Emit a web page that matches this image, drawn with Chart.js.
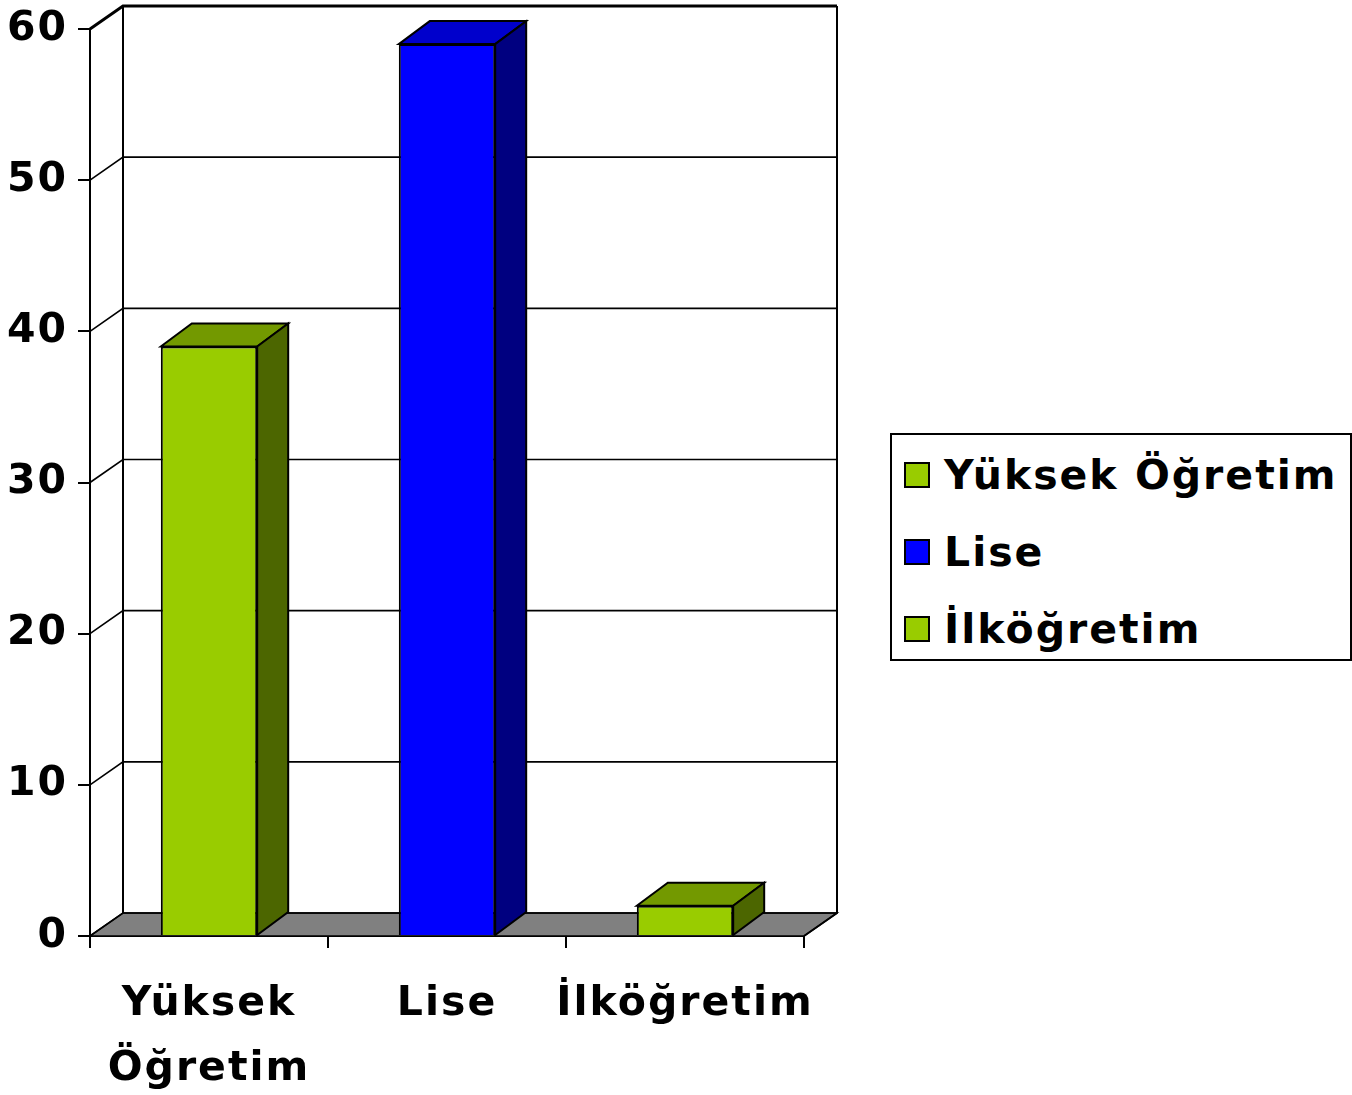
<!DOCTYPE html>
<html><head><meta charset="utf-8">
<script src="https://cdn.jsdelivr.net/npm/chart.js@4"></script>
<style>
html,body{margin:0;padding:0;background:#fff;overflow:hidden}
#wrap{position:relative;width:1352px;height:1095px}
#c{position:absolute;left:0;top:0}
#legend{position:absolute;left:890px;top:433px;width:458px;height:224px;border:2px solid #000;background:#fff;font:bold 41px "DejaVu Sans";color:#000;letter-spacing:2px}
.item{position:absolute;left:12px;height:50px;display:flex;align-items:center;white-space:nowrap}
.sw{width:26px;height:26px;border:2px solid #000;margin-right:14px;box-sizing:border-box}
</style></head>
<body><div id="wrap"><canvas id="c" width="1352" height="1095"></canvas><div id="legend"></div></div>
<script>
const categories = [['Yüksek','Öğretim'], 'Lise', 'İlköğretim'];
const legendLabels = ['Yüksek Öğretim', 'Lise', 'İlköğretim'];
const values = [39, 59, 2];
const yTicks = [0, 10, 20, 30, 40, 50, 60];
const frontColors = ['#99CC00', '#0000FF', '#99CC00'];
const topColors = ['#739900', '#0000CC', '#739900'];
const sideColors = ['#4C6600', '#000080', '#4C6600'];

const WX = 33, WY = 23;   // wall depth
const BX = 31, BY = 23;   // bar depth
const FONT = '"DejaVu Sans", sans-serif';

function poly(ctx, pts, fill, lw){
  ctx.beginPath();
  ctx.moveTo(pts[0][0], pts[0][1]);
  for (let i=1;i<pts.length;i++) ctx.lineTo(pts[i][0], pts[i][1]);
  ctx.closePath();
  if (fill){ ctx.fillStyle = fill; ctx.fill(); }
  ctx.lineWidth = lw; ctx.strokeStyle = '#000'; ctx.stroke();
}

const spacing = {
  id: 'spacing',
  beforeInit(chart){ chart.ctx.letterSpacing = '2px'; },
  beforeUpdate(chart){ chart.ctx.letterSpacing = '2px'; },
  beforeDraw(chart){ chart.ctx.letterSpacing = '2px'; }
};

const threeD = {
  id: 'threeD',
  beforeDatasetsDraw(chart){
    const {ctx, chartArea:a, scales:{y}} = chart;
    ctx.save();
    ctx.lineJoin = 'miter';
    const y0 = y.getPixelForValue(0);
    poly(ctx, [[a.left,y0],[a.right,y0],[a.right+WX,y0-WY],[a.left+WX,y0-WY]], '#808080', 1.5);
    ctx.strokeStyle = '#000';
    yTicks.forEach(v => {
      const yv = y.getPixelForValue(v);
      ctx.lineWidth = (v === yTicks[yTicks.length-1]) ? 3 : 1.6;
      ctx.beginPath();
      ctx.moveTo(a.left, yv); ctx.lineTo(a.left+WX, yv-WY);
      ctx.lineTo(a.right+WX, yv-WY);
      ctx.stroke();
    });
    const yt = y.getPixelForValue(yTicks[yTicks.length-1]);
    ctx.lineWidth = 2;
    ctx.beginPath();
    ctx.moveTo(a.left+WX, yt-WY); ctx.lineTo(a.left+WX, y0-WY);
    ctx.moveTo(a.right+WX, yt-WY); ctx.lineTo(a.right+WX, y0-WY);
    ctx.lineTo(a.right, y0);
    ctx.stroke();
    ctx.restore();
  },
  afterDatasetsDraw(chart){
    const {ctx} = chart;
    const meta = chart.getDatasetMeta(0);
    ctx.save();
    ctx.lineJoin = 'miter';
    meta.data.forEach((bar, i) => {
      const w = bar.width, l = bar.x - w/2, r = bar.x + w/2, t = bar.y, b = bar.base;
      poly(ctx, [[l,t],[l+BX,t-BY],[r+BX,t-BY],[r,t]], topColors[i], 2);
      poly(ctx, [[r,t],[r+BX,t-BY],[r+BX,b-BY],[r,b]], sideColors[i], 2);
    });
    ctx.restore();
  }
};

new Chart(document.getElementById('c'), {
  type: 'bar',
  data: {
    labels: categories,
    datasets: [{
      data: values,
      backgroundColor: frontColors,
      borderColor: '#000',
      borderWidth: 2,
      categoryPercentage: 1,
      barPercentage: 0.405
    }]
  },
  options: {
    responsive: false,
    animation: false,
    events: [],
    layout: { padding: { top: 29, right: 548, left: 0, bottom: 0 } },
    plugins: { legend: { display: false }, tooltip: { enabled: false } },
    scales: {
      y: {
        min: 0, max: 60,
        afterFit: s => { s.width = 90; s.paddingTop = 0; s.paddingBottom = 0; },
        afterBuildTicks: s => { s.ticks = yTicks.map(v => ({value: v})); },
        ticks: { color: '#000', padding: 10, font: { family: FONT, size: 41, weight: 'bold' } },
        grid: { display: true, drawOnChartArea: false, drawTicks: true, tickLength: 12, color: '#000', lineWidth: 2 },
        border: { display: true, color: '#000', width: 2 }
      },
      x: {
        afterFit: s => { s.height = 159; s.paddingLeft = 0; s.paddingRight = 0; },
        ticks: { color: '#000', padding: 24, maxRotation: 0, autoSkip: false,
                 font: { family: FONT, size: 41, weight: 'bold', lineHeight: 1.58 } },
        grid: { display: true, drawOnChartArea: false, drawTicks: true, tickLength: 12, color: '#000', lineWidth: 2, offset: true },
        border: { display: true, color: '#000', width: 2 }
      }
    }
  },
  plugins: [spacing, threeD]
});

const lg = document.getElementById('legend');
const itemTops = [15, 92, 169];
legendLabels.forEach((lab, i) => {
  const d = document.createElement('div');
  d.className = 'item';
  d.style.top = itemTops[i] + 'px';
  const sw = document.createElement('div');
  sw.className = 'sw';
  sw.style.background = frontColors[i];
  const tx = document.createElement('span');
  tx.textContent = lab;
  d.appendChild(sw); d.appendChild(tx);
  lg.appendChild(d);
});
</script>
</body></html>
